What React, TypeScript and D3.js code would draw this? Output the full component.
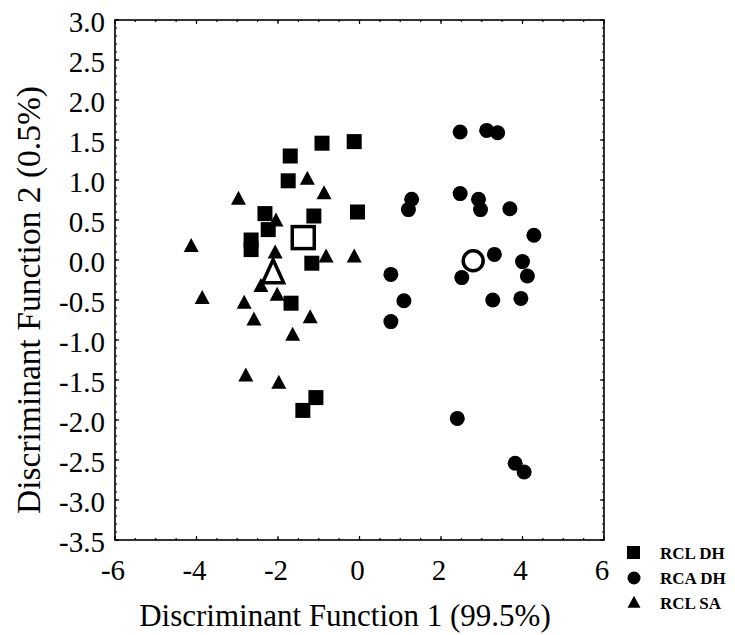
import React from "react";
import * as d3 from "d3";

const squaresX = [-0.92, -0.13, -1.70, -1.75, -2.32, -1.12, -0.05, -2.24, -2.66, -2.66, -1.17, -1.68, -1.07, -1.39];
const squaresY = [1.46, 1.48, 1.30, 0.99, 0.58, 0.55, 0.60, 0.38, 0.25, 0.13, -0.04, -0.54, -1.72, -1.88];

const circlesX = [2.47, 3.12, 3.39, 1.28, 1.20, 2.47, 2.92, 2.97, 3.69, 4.28, 3.31, 4.00, 4.12, 0.77, 2.51, 1.09, 3.27, 3.96, 0.77, 2.40, 3.82, 4.04];
const circlesY = [1.60, 1.62, 1.59, 0.76, 0.63, 0.83, 0.76, 0.63, 0.64, 0.31, 0.07, -0.02, -0.20, -0.18, -0.22, -0.51, -0.50, -0.48, -0.77, -1.98, -2.54, -2.65];

const trianglesX = [-1.28, -0.87, -2.97, -2.05, -4.13, -2.07, -0.82, -0.13, -3.86, -2.42, -2.02, -2.83, -2.59, -1.21, -1.64, -2.79, -1.98];
const trianglesY = [1.01, 0.83, 0.76, 0.49, 0.17, 0.09, 0.04, 0.04, -0.48, -0.33, -0.44, -0.54, -0.75, -0.72, -0.94, -1.45, -1.54];

const centroidNames = ["RCL DH", "RCA DH", "RCL SA"];
const centroidX = [-1.38, 2.79, -2.12];
const centroidY = [0.28, -0.01, -0.17];

const xTicks = [-6, -4, -2, 0, 2, 4, 6];
const yTicks = [3.0, 2.5, 2.0, 1.5, 1.0, 0.5, 0.0, -0.5, -1.0, -1.5, -2.0, -2.5, -3.0, -3.5];
const legendLabels = ["RCL DH", "RCA DH", "RCL SA"];

const xTitle = "Discriminant Function 1 (99.5%)";
const yTitle = "Discriminant Function 2 (0.5%)";

const FONT = "'Liberation Serif', 'Times New Roman', serif";

function triPath(cx: number, cy: number, w: number, h: number) {
  return `M${cx},${cy - h * 0.6}L${cx + w / 2},${cy + h * 0.4}L${cx - w / 2},${cy + h * 0.4}Z`;
}

export default function App() {
  const L = 115, R = 604, T = 20, B = 540;
  const x = d3.scaleLinear().domain([-6, 6]).range([L, R]);
  const y = d3.scaleLinear().domain([-3.5, 3.0]).range([B, T]);

  const xMinor = d3.range(-6, 6.001, 0.5);
  const yMinor = d3.range(-3.5, 3.001, 0.1);

  return (
    <div style={{ position: "fixed", left: 0, top: 0 }}>
      <svg width={735} height={635} style={{ display: "block", background: "#fff" }}>
        {/* ticks */}
        <g stroke="#000" strokeWidth={1.2}>
          {yMinor.map((v, i) => (
            <g key={"ym" + i}>
              <line x1={L} x2={L + 2} y1={y(v)} y2={y(v)} />
              <line x1={R} x2={R - 2} y1={y(v)} y2={y(v)} />
            </g>
          ))}
          {yTicks.map((v, i) => (
            <g key={"yt" + i}>
              <line x1={L} x2={L + 4} y1={y(v)} y2={y(v)} />
              <line x1={R} x2={R - 4} y1={y(v)} y2={y(v)} />
            </g>
          ))}
          {xMinor.map((v, i) => (
            <g key={"xm" + i}>
              <line x1={x(v)} x2={x(v)} y1={B} y2={B - 2} />
              <line x1={x(v)} x2={x(v)} y1={T} y2={T + 2} />
            </g>
          ))}
          {xTicks.map((v, i) => (
            <g key={"xt" + i}>
              <line x1={x(v)} x2={x(v)} y1={B} y2={B - 4} />
              <line x1={x(v)} x2={x(v)} y1={T} y2={T + 4} />
            </g>
          ))}
        </g>
        <rect x={L} y={T} width={R - L} height={B - T} fill="none" stroke="#000" strokeWidth={1.6} />

        {/* tick labels */}
        <g fontFamily={FONT} fontSize={29} fill="#000">
          {yTicks.map((v, i) => (
            <text key={"yl" + i} x={105} y={y(v) + 12} textAnchor="end">
              {v.toFixed(1)}
            </text>
          ))}
          {xTicks.map((v, i) => (
            <text key={"xl" + i} x={x(v) - 2} y={580} textAnchor="middle">
              {String(v)}
            </text>
          ))}
        </g>

        {/* titles */}
        <text x={345} y={626} textAnchor="middle" fontFamily={FONT} fontSize={31}>
          {xTitle}
        </text>
        <text
          transform={`translate(40,${300}) rotate(-90)`}
          textAnchor="middle"
          fontFamily={FONT}
          fontSize={33.5}
        >
          {yTitle}
        </text>

        {/* data */}
        <g fill="#000">
          {trianglesX.map((v, i) => (
            <path key={"t" + i} d={triPath(x(v), y(trianglesY[i]), 15, 14)} />
          ))}
          {squaresX.map((v, i) => (
            <rect key={"s" + i} x={x(v) - 7.5} y={y(squaresY[i]) - 7.5} width={15} height={15} />
          ))}
          {circlesX.map((v, i) => (
            <circle key={"c" + i} cx={x(v)} cy={y(circlesY[i])} r={7.5} />
          ))}
        </g>

        {/* centroids */}
        <g fill="#fff" stroke="#000" strokeWidth={3.5}>
          <rect
            x={x(centroidX[0]) - 11}
            y={y(centroidY[0]) - 11}
            width={22}
            height={22}
          />
          <circle cx={x(centroidX[1])} cy={y(centroidY[1])} r={10} />
          <path d={triPath(x(centroidX[2]), y(centroidY[2]), 21, 23)} strokeLinejoin="miter" />
        </g>

        {/* legend */}
        <g fontFamily={FONT} fontSize={17} fontWeight="bold">
          {legendLabels.map((lab, i) => {
            const ly = 553 + i * 25;
            return (
              <g key={"lg" + i}>
                {i === 0 && <rect x={627} y={ly - 7} width={13} height={13} fill="#000" />}
                {i === 1 && <circle cx={634} cy={ly} r={6.5} fill="#000" />}
                {i === 2 && <path d={triPath(634, ly, 13, 12)} fill="#000" />}
                <text x={660} y={ly + 6}>{lab}</text>
              </g>
            );
          })}
        </g>
      </svg>
    </div>
  );
}
